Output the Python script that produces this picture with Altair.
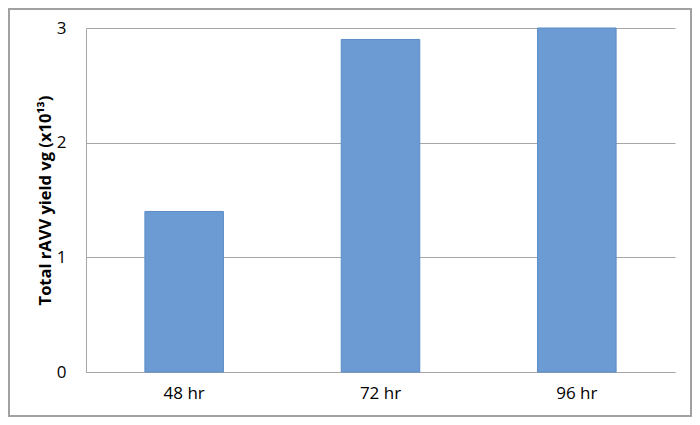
import altair as alt
import pandas as pd

categories = ["48 hr", "72 hr", "96 hr"]
values = [1.4, 2.9, 3.0]
y_ticks = [0, 1, 2, 3]

df = pd.DataFrame({"time": categories, "yield": values})

FONT = "Open Sans"

bars = alt.Chart(df).mark_bar(
    color="#6b9bd2", stroke="#5b8cc8", strokeWidth=1
).encode(
    x=alt.X("time:N", sort=categories, title=None,
            scale=alt.Scale(paddingInner=0.6, paddingOuter=0.3),
            axis=alt.Axis(labelAngle=0, ticks=False, domain=True,
                          domainColor="#a6a6a6", labelPadding=13,
                          labelFontSize=17, labelFont=FONT, labelColor="#000000")),
    y=alt.Y("yield:Q", title="Total rAVV yield vg (x10¹³)",
            scale=alt.Scale(domain=[0, 3], nice=False),
            axis=alt.Axis(values=y_ticks, format="d", ticks=False,
                          domain=True, domainColor="#a6a6a6",
                          grid=True, gridColor="#a6a6a6", gridWidth=1,
                          labelPadding=20, labelFontSize=17, labelFont=FONT,
                          labelColor="#000000",
                          titleFont=FONT, titleFontSize=16.5, titleFontWeight="bold",
                          titleColor="#000000", titlePadding=3)),
)

border = alt.Chart(df).mark_rect(
    fill=None, stroke="#a0a0a0", strokeWidth=1.5
).encode(
    x=alt.value(-77), x2=alt.value(605),
    y=alt.value(-19), y2=alt.value(388),
)

chart = alt.layer(bars, border).properties(
    width=589, height=344,
    padding={"left": 78, "top": 20, "right": 17, "bottom": 45},
    autosize=alt.AutoSizeParams(type="none"),
    background="#ffffff",
).configure_view(stroke=None)

chart.save("out.html", embed_options={"renderer": "svg", "actions": False})
